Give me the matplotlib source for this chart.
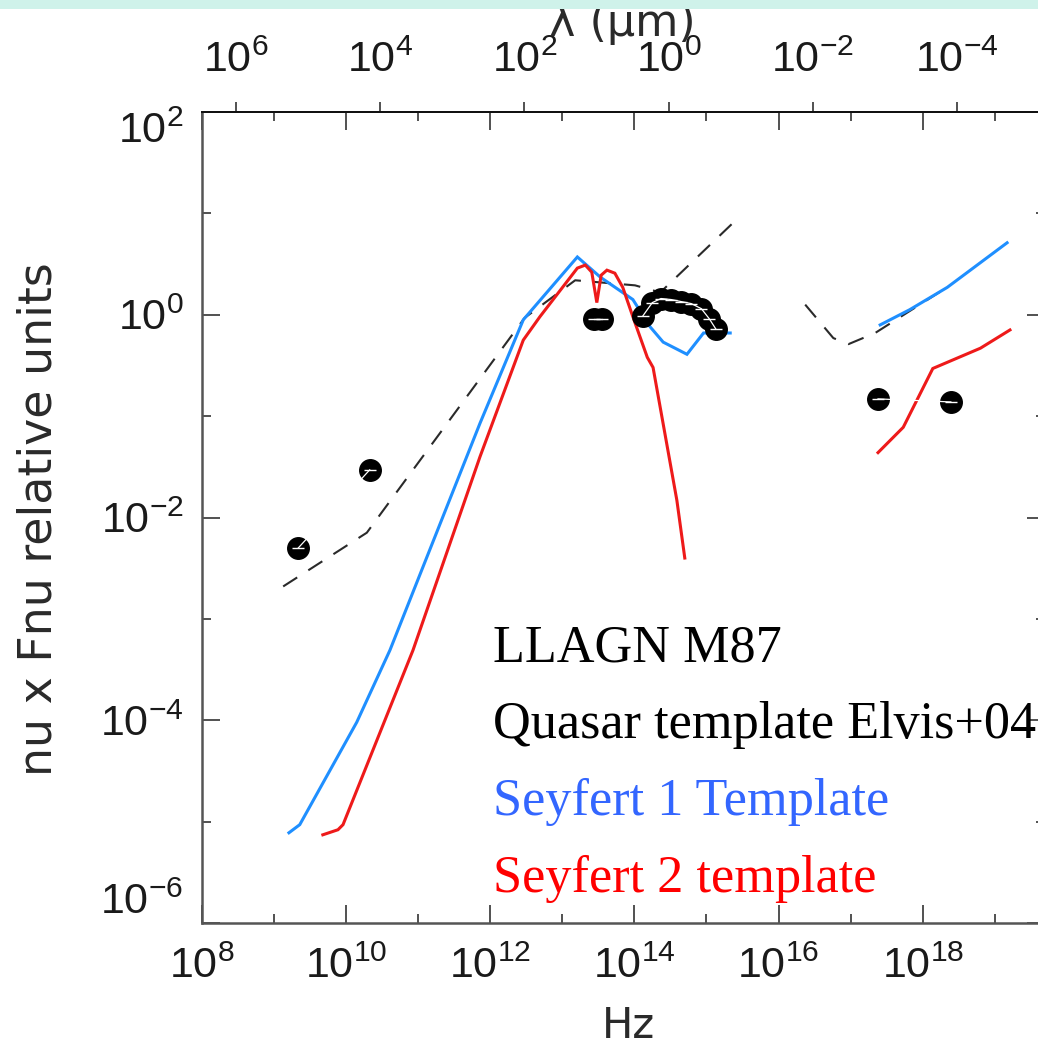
import numpy as np
import matplotlib
matplotlib.use("Agg")
import matplotlib.pyplot as plt
from matplotlib.ticker import FixedLocator, NullFormatter, NullLocator
from matplotlib.patches import Rectangle

# ---------------- data (log10 nu [Hz], log10 nu*Fnu [relative]) ----------------
# LLAGN M87 photometry
m87_radio_lognu = [9.34, 10.33]
m87_radio_logf = [-2.30, -1.53]
m87_ir_lognu = [13.44, 13.55]
m87_ir_logf = [-0.04, -0.04]
m87_opt_lognu = [14.12, 14.25, 14.37, 14.51, 14.65, 14.79, 14.93, 15.04, 15.13]
m87_opt_logf = [-0.01, 0.12, 0.16, 0.15, 0.13, 0.11, 0.06, -0.04, -0.14]
m87_xray_lognu = [17.38, 18.39]
m87_xray_logf = [-0.83, -0.86]

# Quasar template (Elvis+04), dashed
qso_lognu_a = [9.13, 10.29, 12.48, 13.18, 14.01, 14.36, 15.36]
qso_logf_a = [-2.68, -2.15, -0.03, 0.34, 0.29, 0.22, 0.90]
qso_lognu_b = [16.37, 16.76, 16.97, 17.34, 18.38]
qso_logf_b = [0.10, -0.23, -0.29, -0.18, 0.29]

# Seyfert 1 template
sy1_lognu_a = [9.21, 9.36, 10.15, 10.61, 11.86, 12.46, 13.21, 13.53, 13.98, 14.22, 14.40, 14.73, 14.96, 15.33]
sy1_logf_a = [-5.11, -5.03, -4.02, -3.31, -1.07, -0.05, 0.57, 0.37, 0.15, -0.12, -0.27, -0.39, -0.18, -0.18]
sy1_lognu_b = [17.41, 17.82, 18.34, 19.17]
sy1_logf_b = [-0.10, 0.05, 0.27, 0.71]

# Seyfert 2 template
sy2_lognu_a = [9.68, 9.89, 9.96, 10.93, 11.86, 12.46, 12.69, 13.21, 13.32, 13.41, 13.48,
               13.54, 13.62, 13.73, 13.84, 13.98, 14.18, 14.26, 14.59, 14.70]
sy2_logf_a = [-5.13, -5.08, -5.03, -3.31, -1.40, -0.25, -0.02, 0.46, 0.49, 0.42, 0.12,
              0.39, 0.44, 0.41, 0.27, -0.02, -0.42, -0.52, -1.83, -2.40]
sy2_lognu_b = [17.38, 17.73, 18.14, 18.80, 19.21]
sy2_logf_b = [-1.36, -1.11, -0.53, -0.33, -0.15]

# axis ticks
x_major = [1e8, 1e10, 1e12, 1e14, 1e16, 1e18]
x_minor = [1e9, 1e11, 1e13, 1e15, 1e17, 1e19]
x_labels = ["8", "10", "12", "14", "16", "18"]
y_major = [1e-6, 1e-4, 1e-2, 1e0, 1e2]
y_minor = [1e-5, 1e-3, 1e-1, 1e1]
y_labels = ["-6", "-4", "-2", "0", "2"]
lam_ticks = [1e6, 1e4, 1e2, 1e0, 1e-2, 1e-4]
lam_labels = ["6", "4", "2", "0", "-2", "-4"]

legend_texts = ["LLAGN M87", "Quasar template Elvis+04", "Seyfert 1 Template", "Seyfert 2 template"]
legend_colors = ["black", "black", "#3366ff", "#ff0000"]

# ---------------- style ----------------
plt.rcParams["font.family"] = ["Liberation Sans", "DejaVu Sans"]
plt.rcParams["mathtext.fontset"] = "custom"
plt.rcParams["mathtext.rm"] = "Liberation Sans"
plt.rcParams["lines.scale_dashes"] = False

W, H = 1038, 1049
fig = plt.figure(figsize=(W / 100, H / 100), dpi=100)
fig.patch.set_facecolor("white")

def px(x0, y0, x1, y1):
    return [x0 / W, 1 - y1 / H, (x1 - x0) / W, (y1 - y0) / H]

ax = fig.add_axes(px(201.7, 112, 1045.3, 923))
ax.set_xscale("log")
ax.set_yscale("log")
ax.set_xlim(1e8, 10 ** 19.7)
ax.set_ylim(1e-6, 1e2)

def p10(a):
    return 10 ** np.asarray(a, dtype=float)

BLUE = "#1f8fff"
RED = "#ee1a1a"

# quasar template dashed
for lx, ly in [(qso_lognu_a, qso_logf_a), (qso_lognu_b, qso_logf_b)]:
    ax.plot(p10(lx), p10(ly), color="#2a2a2a", lw=1.5, dashes=(12, 9.5), zorder=2)

# templates
for lx, ly in [(sy1_lognu_a, sy1_logf_a), (sy1_lognu_b, sy1_logf_b)]:
    ax.plot(p10(lx), p10(ly), color=BLUE, lw=2.2, zorder=3, solid_joinstyle="miter")
for lx, ly in [(sy2_lognu_a, sy2_logf_a), (sy2_lognu_b, sy2_logf_b)]:
    ax.plot(p10(lx), p10(ly), color=RED, lw=2.2, zorder=4, solid_joinstyle="miter")

# M87 data points
for lx, ly in [(m87_radio_lognu, m87_radio_logf), (m87_ir_lognu, m87_ir_logf),
               (m87_opt_lognu, m87_opt_logf), (m87_xray_lognu, m87_xray_logf)]:
    ax.plot(p10(lx), p10(ly), ls="none", marker="o", ms=15.5, mfc="black", mec="black", zorder=6)
    ax.plot(p10(lx), p10(ly), ls="-", lw=0.9, color="white", marker="_", ms=9, mew=1.0, mec="white", zorder=7)

# spines & ticks
for s in ["left", "bottom", "right"]:
    ax.spines[s].set_color("#555555")
    ax.spines[s].set_linewidth(1.8)
ax.spines["top"].set_color("#111111")
ax.spines["top"].set_linewidth(1.4)

ax.xaxis.set_major_locator(FixedLocator(x_major))
ax.xaxis.set_minor_locator(FixedLocator(x_minor))
ax.xaxis.set_minor_formatter(NullFormatter())
ax.set_xticklabels([r"$\mathregular{10^{%s}}$" % s for s in x_labels])
ax.yaxis.set_major_locator(FixedLocator(y_major))
ax.yaxis.set_minor_locator(FixedLocator(y_minor))
ax.yaxis.set_minor_formatter(NullFormatter())
ax.set_yticklabels([r"$\mathregular{10^{%s}}$" % s.replace("-", "\u2212") for s in y_labels])

ax.tick_params(which="both", direction="in", top=True, right=True, color="#222222", width=1.1)
ax.tick_params(which="major", length=13, labelsize=31, labelcolor="#1a1a1a")
ax.tick_params(which="minor", length=6.5)
ax.tick_params(axis="x", which="major", pad=17)
ax.tick_params(axis="y", which="major", pad=13)

ylabs = ax.get_yticklabels()
ylabs[0].set_va("bottom")
ylabs[-1].set_va("top")

# top wavelength axis
C_UM = 2.998e14
def nu2lam(x):
    x = np.asarray(x, dtype=float)
    with np.errstate(divide="ignore", invalid="ignore"):
        return C_UM / x
def lam2nu(x):
    x = np.asarray(x, dtype=float)
    with np.errstate(divide="ignore", invalid="ignore"):
        return C_UM / x

secax = ax.secondary_xaxis("top", functions=(nu2lam, lam2nu))
secax.xaxis.set_major_locator(FixedLocator(lam_ticks))
secax.xaxis.set_minor_locator(NullLocator())
secax.set_xticklabels([r"$\mathregular{10^{%s}}$" % s.replace("-", "\u2212") for s in lam_labels])
secax.tick_params(which="major", direction="out", length=7, width=1.1, color="#222222",
                  labelsize=31, labelcolor="#1a1a1a", pad=15)
secax.spines["top"].set_color("#111111")
secax.spines["top"].set_linewidth(1.4)

# axis titles
WIDE = ["DejaVu Sans"]
fig.text(52 / W, 1 - 519 / H, "nu x Fnu relative units", rotation=90, rotation_mode="anchor",
         ha="center", va="baseline", fontsize=33, color="#2a2a2a", family=WIDE)
fig.text(628 / W, 1 - 1047 / H, "Hz", ha="center", va="bottom", fontsize=30, color="#2a2a2a", family=WIDE)
fig.text(622 / W, 1 - 36 / H, "\u03bb (\u03bcm)", ha="center", va="baseline", fontsize=32,
         color="#2a2a2a", family=WIDE)

# legend texts
for i, (t, c) in enumerate(zip(legend_texts, legend_colors)):
    fig.text(493 / W, 1 - (661 + 77 * i) / H, t, color=c, fontsize=37.6,
             family=["Liberation Serif", "DejaVu Serif"], ha="left", va="baseline")

# slide title band at very top
fig.patches.append(Rectangle((0, 1 - 9 / H), 1, 9 / H, transform=fig.transFigure,
                             facecolor="#cff2ea", edgecolor="none", zorder=10))

fig.savefig("out.png", dpi=100)
